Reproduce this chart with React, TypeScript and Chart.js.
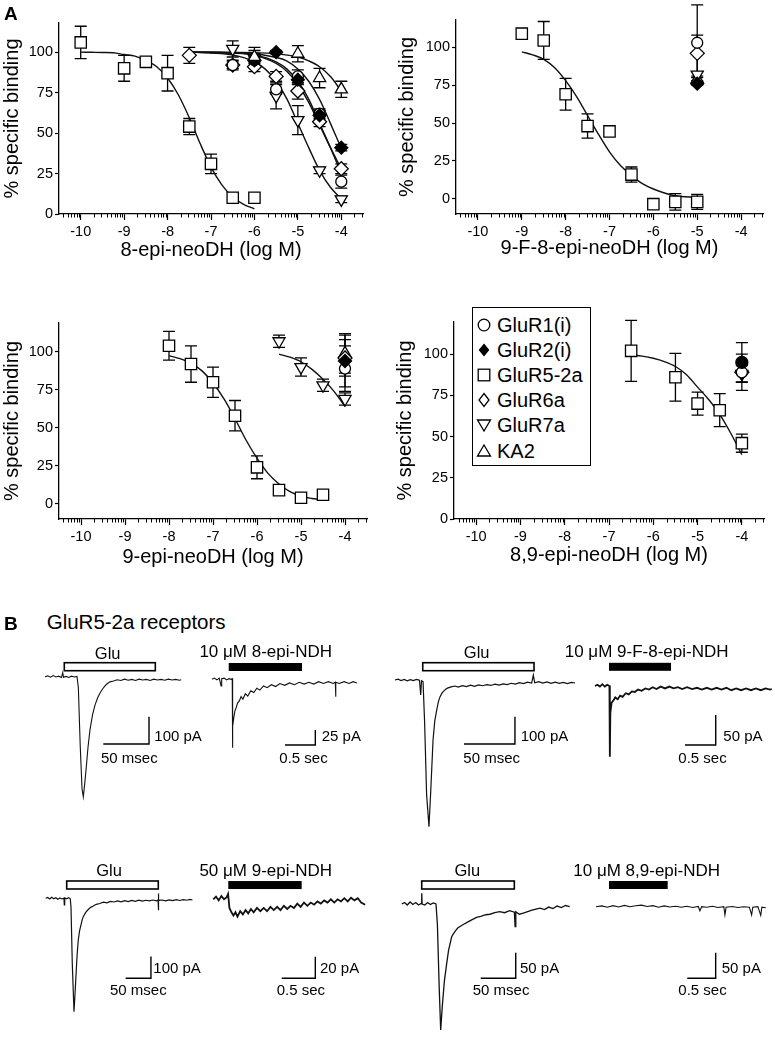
import React, { useEffect, useRef } from "react";
import { Chart, registerables } from "chart.js";

Chart.register(...registerables);

const FONT = "'Liberation Sans', Arial, Helvetica, sans-serif";
Chart.defaults.font.family = FONT;
Chart.defaults.color = "#000";

// ================= Panel A data =================
const xTicks = [-10, -9, -8, -7, -6, -5, -4];
const yTicks = [0, 25, 50, 75, 100];
const legendNames = ["GluR1(i)", "GluR2(i)", "GluR5-2a", "GluR6a", "GluR7a", "KA2"];
const legendKeys = ["R1", "R2", "R5", "R6", "R7", "KA"];

// Panel 1: 8-epi-neoDH
const p1R1x = [-6.5, -6, -5.5, -5, -4.5, -4];
const p1R1y = [92, 95, 77, 85, 62, 20];
const p1R1e = [3, 4, 3, 4, 3, 4];
const p1R2x = [-6, -5.5, -5, -4.5, -4];
const p1R2y = [95, 100, 83, 61, 41];
const p1R2e = [2, 1, 3, 3, 2];
const p1R5x = [-10, -9, -8.5, -8, -7.5, -7, -6.5, -6];
const p1R5y = [106, 90, 94, 87, 54, 31, 10, 10];
const p1R5e = [10, 8, 2, 11, 5, 6, 0, 0];
const p1R6x = [-7.5, -6.5, -6, -5.5, -5, -4.5, -4];
const p1R6y = [98, 92, 91, 85, 76, 57, 28];
const p1R6e = [5, 2, 3, 3, 5, 3, 3];
const p1R7x = [-6.5, -6, -5.5, -5, -4.5, -4];
const p1R7y = [102, 96, 73, 58, 27, 9];
const p1R7e = [5, 5, 8, 9, 2, 2];
const p1KAx = [-6, -5, -4.5, -4];
const p1KAy = [97, 99, 84, 77];
const p1KAe = [6, 5, 6, 5];

const p1c5x = [-10, -9.75, -9.5, -9.25, -9, -8.75, -8.5, -8.25, -8, -7.75, -7.5, -7.25, -7, -6.75, -6.5, -6.25, -6];
const p1c5y = [100, 99.9, 99.8, 99.6, 98.5, 97.5, 94.8, 91, 84, 73.5, 59.5, 43.5, 29, 18, 10.5, 6, 3.2];
const p1c7x = [-7.5, -7, -6.5, -6, -5.75, -5.5, -5.25, -5, -4.75, -4.5, -4.25, -4];
const p1c7y = [100, 99.5, 98.3, 94, 89.5, 82, 71, 56, 41, 27, 16.5, 9.3];
const p1c1x = [-7.5, -7, -6.5, -6, -5.5, -5.25, -5, -4.75, -4.5, -4.25, -4];
const p1c1y = [100, 99.8, 99.5, 98.3, 94, 89.5, 82, 71, 56, 41, 25];
const p1c6y = [100, 99.8, 99.4, 98, 93, 88, 80, 69, 55, 41, 28];
const p1c2x = [-7.5, -7, -6.5, -6, -5.5, -5.25, -5, -4.75, -4.5, -4.25, -4];
const p1c2y = [100, 99.9, 99.8, 99, 96.7, 94.5, 89.6, 82, 70.8, 56, 40.6];
const p1cKx = [-7.5, -7, -6.5, -6, -5.5, -5, -4.75, -4.5, -4.25, -4];
const p1cKy = [100, 99.9, 99.8, 99.7, 99, 97, 94.6, 91, 84.9, 76];

// Panel 2: 9-F-8-epi-neoDH
const p2R5x = [-9, -8.5, -8, -7.5, -7, -6.5, -6, -5.5, -5];
const p2R5y = [109, 104.5, 69, 48, 44.5, 16, -3.5, -2, -2];
const p2R5e = [0, 12.5, 10.5, 8, 0, 5, 0, 5.5, 5];
const p2Ox = [-5];
const p2R1y = [103];
const p2R1e = [25];
const p2R2y = [76];
const p2R2e = [1];
const p2R6y = [96];
const p2R6e = [12];
const p2R7y = [82];
const p2R7e = [2];
const p2KAy = [79];
const p2KAe = [2];
const p2c5x = [-9, -8.75, -8.5, -8.25, -8, -7.75, -7.5, -7.25, -7, -6.75, -6.5, -6.25, -6, -5.5, -5];
const p2c5y = [97, 95, 92, 86.5, 78, 67.5, 55, 42.5, 31, 22, 15.5, 10, 6.5, 2, 1];

// Panel 3: 9-epi-neoDH
const p3R5x = [-8, -7.5, -7, -6.5, -6, -5.5, -5, -4.5];
const p3R5y = [104, 92, 80, 58, 24, 9, 4, 6];
const p3R5e = [9.5, 12, 10, 10, 7.5, 2, 0, 0];
const p3R7x = [-5.5, -5, -4.5, -4];
const p3R7y = [107, 90, 78, 69];
const p3R7e = [4, 6, 4, 4];
const p3Ox = [-4];
const p3R1y = [89];
const p3R1e = [15];
const p3R2y = [94];
const p3R2e = [17];
const p3R6y = [96];
const p3R6e = [12];
const p3KAy = [99];
const p3KAe = [13];
const p3c5x = [-8, -7.75, -7.5, -7.25, -7, -6.75, -6.5, -6.25, -6, -5.75, -5.5, -5.25, -5, -4.75, -4.6];
const p3c5y = [97.5, 95.5, 92.5, 87.5, 79.5, 69, 56, 42, 30, 20, 13, 8, 5, 3.5, 3];
const p3c7x = [-5.5, -5.25, -5, -4.75, -4.5, -4.25, -4];
const p3c7y = [98.5, 96.5, 93.5, 88.5, 82, 74, 64];

// Panel 4: 8,9-epi-neoDH
const p4R5x = [-6.5, -5.5, -5, -4.5, -4];
const p4R5y = [102, 86, 70, 66, 46];
const p4R5e = [18.5, 14.5, 7, 10, 5.5];
const p4Ox = [-4];
const p4R1y = [89];
const p4R1e = [11];
const p4R2y = [95];
const p4R2e = [12];
const p4R6y = [89];
const p4R6e = [6];
const p4R7y = [88];
const p4R7e = [5];
const p4c5x = [-6.5, -6.25, -6, -5.75, -5.5, -5.25, -5, -4.75, -4.5, -4.25, -4];
const p4c5y = [99.5, 98.8, 97.5, 95.5, 92.5, 87.5, 80, 72.5, 63.5, 52, 39];

// ================= Panel B data (time, current pA) =================
const tr1: [number, number][] = [[0,0],[3,3],[6,-2],[9,4],[12,-1],[15,2],[18,-3],[19.4,15],[20.2,-2],[23,1],[26,-3],[29,2],[32,-1],[35,1],[36.5,-40],[38.5,-250],[40.5,-410],[41.9,-440],[43.2,-400],[44.9,-342],[47,-260],[49.2,-195],[52,-140],[54.7,-104],[57.5,-78],[60.2,-60],[63,-45],[65.6,-34],[68,-26],[71.1,-19],[75,-16],[79,-11],[83,-14],[87,-9],[91,-13],[95,-10],[99,-14],[103,-9],[107,-12],[111,-10],[115,-14],[119,-9],[123,-12],[127,-10],[131,-13],[135,-9],[139,-12],[143,-10],[147,-13],[149,-11]];
const tr2: [number, number][] = [[0,0],[0.04,2],[0.08,-1],[0.12,2],[0.15,-11],[0.16,1],[0.2,2],[0.24,-1],[0.28,1],[0.32,0],[0.334,1],[0.336,-114],[0.345,-78],[0.36,-64],[0.38,-52],[0.4,-47],[0.42,-40],[0.45,-36],[0.48,-29],[0.51,-33],[0.55,-24],[0.59,-28],[0.64,-19],[0.69,-22],[0.74,-15],[0.79,-18],[0.85,-11],[0.91,-14],[0.98,-9],[1.05,-12],[1.12,-7],[1.2,-10],[1.28,-6],[1.36,-9],[1.44,-5],[1.52,-8],[1.6,-5],[1.68,-8],[1.76,-4],[1.84,-7],[1.92,-4],[2.0,-7],[2.035,-5],[2.04,-29],[2.045,-5],[2.1,-7],[2.18,-4],[2.26,-7],[2.33,-4],[2.39,-6]];
const tr3: [number, number][] = [[0,0],[3,3],[6,-2],[9,2],[12,-3],[15,1],[18,-2],[21,2],[24,-1],[25.2,-55],[26,-3],[27.5,-6],[29,-150],[31,-420],[33.3,-537],[35,-410],[37.3,-220],[39,-150],[40.9,-110],[42.5,-80],[44.1,-62],[46,-48],[48,-40],[50,-33],[52,-29],[55,-25],[58.8,-22],[62,-26],[66,-21],[70,-24],[74,-19],[78,-23],[82,-18],[86,-21],[90,-17],[94,-20],[98,-15],[102,-19],[106,-14],[110,-17],[114,-12],[118,-15],[122,-10],[126,-13],[130,-8],[134,-11],[135.6,18],[137,-10],[141,-6],[145,-11],[149,-7],[153,-12],[157,-8],[161,-12],[165,-9],[169,-13],[173,-9],[176.5,-11]];
const tr4: [number, number][] = [[0,0],[0.04,2],[0.08,-1],[0.12,3],[0.16,-1],[0.2,2],[0.235,0],[0.24,1],[0.244,-118],[0.25,-45],[0.27,-28],[0.3,-24],[0.33,-19],[0.37,-22],[0.41,-16],[0.45,-18],[0.5,-12],[0.55,-14],[0.6,-9],[0.65,-10],[0.7,-6],[0.76,-8],[0.82,-4],[0.88,-6],[0.94,-2],[1.0,-5],[1.07,-1],[1.14,-4],[1.21,-1],[1.28,-4],[1.35,-2],[1.42,-5],[1.5,-2],[1.58,-5],[1.66,-3],[1.74,-6],[1.82,-3],[1.9,-6],[1.98,-3],[2.06,-6],[2.14,-3],[2.22,-7],[2.3,-4],[2.38,-7],[2.46,-4],[2.54,-7],[2.62,-4],[2.7,-7],[2.78,-4],[2.85,-6],[2.88,-5]];
const tr5: [number, number][] = [[0,0],[4,4],[8,-3],[12,5],[16,-2],[20,3],[24,-4],[28,2],[32,-3],[36,1],[36.8,-30],[37.6,2],[41,-2],[45,3],[48.5,-1],[50,-40],[52.5,-300],[55.9,-525],[57.5,-460],[59.9,-355],[62,-265],[64.4,-193],[67,-150],[69.8,-123],[72,-100],[74.3,-85],[79,-65],[84,-52],[89,-42],[94,-36],[100,-28],[107,-24],[114,-18],[121,-21],[128,-14],[135,-17],[142,-12],[149,-16],[156,-11],[163,-15],[170,-10],[177,-14],[184,-9],[191,-13],[198,-9],[205,-12],[212,-8],[219,-12],[222,-8],[222.5,22],[223,-55],[223.5,-10],[230,-8],[237,-12],[244,-7],[251,-11],[258,-6],[265,-10],[272,-6],[279,-9],[285,-5],[290,-8]];
const tr6: [number, number][] = [[0,0],[0.04,2.5],[0.08,-1],[0.12,3],[0.16,0],[0.2,2],[0.22,5],[0.24,-8],[0.27,-12],[0.3,-15],[0.33,-12],[0.36,-16],[0.4,-11],[0.44,-14],[0.48,-10],[0.52,-13],[0.56,-9],[0.6,-12],[0.65,-8],[0.7,-11],[0.75,-8],[0.8,-11],[0.85,-7],[0.9,-10],[0.95,-7],[1.0,-10],[1.05,-6],[1.1,-9],[1.15,-6],[1.2,-8],[1.25,-4],[1.3,-7],[1.35,-3],[1.4,-6],[1.45,-3],[1.5,-5],[1.55,-2],[1.6,-4],[1.65,-1],[1.7,-3],[1.75,0],[1.8,-3],[1.85,0],[1.9,-2],[1.95,1],[2.0,-2],[2.05,1.5],[2.1,-1],[2.15,1],[2.2,-3],[2.26,-5]];
const tr7: [number, number][] = [[0,0],[4,3],[8,-2],[12,4],[16,-1],[20,3],[24,-2],[28,1],[28.6,21],[29.2,0],[33,-2],[37,3],[41,-1],[45,2],[49,0],[51,-40],[53.5,-160],[55.7,-246],[58,-200],[61,-150],[64.3,-116],[67,-90],[71.4,-64],[74,-58],[77.6,-51],[80,-47],[83.3,-44],[88,-40],[94.7,-35],[100,-31],[107,-26],[113,-24],[120,-21],[126,-20],[133,-17],[140,-15],[147,-17],[154,-13],[161,-16],[162,-44],[163,-15],[168,-20],[173.7,-18],[180,-15],[186,-12],[192,-10],[197.6,-8],[204,-11],[210,-6],[216,-9],[222,-4],[228,-7],[234,-3],[240,-5]];
const tr8: [number, number][] = [[0,0],[0.1,1.5],[0.2,-1],[0.3,2],[0.4,-0.5],[0.5,2.5],[0.6,0],[0.7,2],[0.8,3],[0.9,0.5],[1.0,2],[1.1,-1],[1.2,1.5],[1.3,-0.5],[1.4,1],[1.5,-1],[1.6,1],[1.7,-1.5],[1.8,0.5],[1.83,-8],[1.86,0],[1.95,-1],[2.05,1],[2.15,-1.5],[2.25,0],[2.27,-16],[2.29,-1],[2.4,0.5],[2.5,-1.5],[2.6,0],[2.7,-1],[2.74,-16],[2.76,-1],[2.85,0],[2.9,-17],[2.92,-1],[2.99,-2]];

// application bars: [start, end, level]
const bar1 = [21.1, 120.7, 36.6];
const bar2 = [0.276, 1.485, 20.5];
const bar3 = [27.2, 136.3, 48.7];
const bar4 = [0.228, 1.238, 32];
const bar5 = [41.5, 222.5, 61.6];
const bar6 = [0.223, 1.315, 13.2];
const bar7 = [28.6, 160.9, 37.1];
const bar8 = [0.229, 1.262, 42.4];
// scale bars: [cornerTime, cornerCurrent, timeLen, currentLen]
const sb1 = [113.8, -246.5, 50, 100];
const sb2 = [1.705, -109.5, 0.5, 25];
const sb3 = [117.6, -234.4, 50, 100];
const sb4 = [1.966, -98.3, 0.5, 50];
const sb5 = [208, -370, 50, 100];
const sb6 = [1.518, -73.1, 0.5, 20];
const sb7 = [162.9, -145, 50, 50];
const sb8 = [2.107, -139.8, 0.5, 50];

// ================= styles =================
const MARKERS: Record<string, { style: string; r: number; fill: string; rot?: number }> = {
  R1: { style: "circle", r: 5.5, fill: "#fff" },
  R2: { style: "rectRot", r: 6.5, fill: "#000" },
  R5: { style: "rect", r: 8, fill: "#fff" },
  R6: { style: "rectRot", r: 7, fill: "#fff" },
  R7: { style: "triangle", r: 7, fill: "#fff", rot: 180 },
  KA: { style: "triangle", r: 7, fill: "#fff" },
};

type Series = { key: string; x: number[]; y: number[]; e: number[]; override?: any };
type Curve = { x: number[]; y: number[] };

const errorBarPlugin = {
  id: "errbars",
  beforeDatasetsDraw(chart: any) {
    const { ctx, scales } = chart;
    const xs = scales.x, ys = scales.y;
    ctx.save();
    ctx.strokeStyle = "#000";
    ctx.lineWidth = 1.3;
    chart.data.datasets.forEach((ds: any) => {
      if (!ds.errors) return;
      ds.data.forEach((p: any, i: number) => {
        const e = ds.errors[i];
        if (!e) return;
        const px = xs.getPixelForValue(p.x);
        const t = ys.getPixelForValue(p.y + e);
        const b = ys.getPixelForValue(p.y - e);
        ctx.beginPath();
        ctx.moveTo(px, t); ctx.lineTo(px, b);
        ctx.moveTo(px - 6, t); ctx.lineTo(px + 6, t);
        ctx.moveTo(px - 6, b); ctx.lineTo(px + 6, b);
        ctx.stroke();
      });
    });
    ctx.restore();
  },
};

const minorTickPlugin = {
  id: "minorTicks",
  afterDraw(chart: any) {
    const { ctx } = chart;
    const xs = chart.scales.x;
    const yb = chart.chartArea.bottom;
    ctx.save();
    ctx.strokeStyle = "#000";
    ctx.lineWidth = 1;
    for (let n = Math.floor(xs.min); n < Math.ceil(xs.max); n++) {
      for (let k = 2; k <= 9; k++) {
        const v = n + Math.log10(k);
        if (v < xs.min || v > xs.max) continue;
        const px = Math.round(xs.getPixelForValue(v)) + 0.5;
        ctx.beginPath();
        ctx.moveTo(px, yb);
        ctx.lineTo(px, yb + 3.5);
        ctx.stroke();
      }
    }
    ctx.restore();
  },
};

type PanelLayout = {
  left: number; top: number; width: number; height: number;
  pt: number; pr: number; yw: number; xh: number; xtp: number; ytp: number;
  yMin: number; yMax: number;
};

function ChartCanvas({ left, top, width, height, make }: { left: number; top: number; width: number; height: number; make: () => any }) {
  const ref = useRef<HTMLCanvasElement>(null);
  useEffect(() => {
    const chart = new Chart(ref.current as HTMLCanvasElement, make());
    return () => chart.destroy();
  }, []);
  return (
    <canvas
      ref={ref}
      width={width}
      height={height}
      style={{ position: "absolute", left, top, width, height }}
    />
  );
}

function doseConfig(L: PanelLayout, xTitle: string, series: Series[], curves: Curve[]) {
  const datasets: any[] = [];
  curves.forEach((c) => {
    datasets.push({
      type: "line",
      data: c.x.map((x, i) => ({ x, y: c.y[i] })),
      borderColor: "#111",
      borderWidth: 1.4,
      pointRadius: 0,
      cubicInterpolationMode: "monotone",
      fill: false,
      order: 2,
    });
  });
  series.forEach((s) => {
    const st = { ...MARKERS[s.key], ...(s.override || {}) };
    datasets.push({
      type: "line",
      data: s.x.map((x, i) => ({ x, y: s.y[i] })),
      errors: s.e,
      showLine: false,
      pointStyle: st.style,
      pointRadius: st.r,
      pointRotation: st.rot || 0,
      pointBackgroundColor: st.fill,
      pointBorderColor: "#000",
      pointBorderWidth: 1.3,
      order: 1,
    });
  });
  return {
    type: "line",
    data: { datasets },
    plugins: [errorBarPlugin, minorTickPlugin],
    options: {
      animation: false,
      responsive: false,
      maintainAspectRatio: false,
      layout: { padding: { top: L.pt, right: L.pr, bottom: 0, left: 0 } },
      plugins: { legend: { display: false }, tooltip: { enabled: false } },
      scales: {
        x: {
          type: "linear",
          min: -10.5,
          max: -3.5,
          afterFit: (s: any) => { s.height = L.xh; },
          afterBuildTicks: (s: any) => { s.ticks = xTicks.map((v) => ({ value: v })); },
          ticks: { color: "#000", font: { size: 14.5, family: FONT }, padding: 3, maxRotation: 0, autoSkip: false, callback: (v: any) => String(v) },
          grid: { drawOnChartArea: false, drawTicks: true, tickLength: 6, tickColor: "#000", tickWidth: 1.2 },
          border: { display: true, color: "#000", width: 1.3 },
          title: { display: true, text: xTitle, color: "#000", font: { size: 20, family: FONT }, padding: { top: 0, bottom: L.xtp } },
        },
        y: {
          type: "linear",
          min: L.yMin,
          max: L.yMax,
          afterFit: (s: any) => { s.width = L.yw; },
          afterBuildTicks: (s: any) => { s.ticks = yTicks.map((v) => ({ value: v })); },
          ticks: { color: "#000", font: { size: 14.5, family: FONT }, padding: 2, autoSkip: false, callback: (v: any) => String(v) },
          grid: { drawOnChartArea: false, drawTicks: true, tickLength: 4, tickColor: "#000", tickWidth: 1.2 },
          border: { display: true, color: "#000", width: 1.3 },
          title: { display: true, text: "% specific binding", color: "#000", font: { size: 20, family: FONT }, padding: { top: L.ytp, bottom: 0 } },
        },
      },
    },
  };
}

type TraceLayout = { left: number; top: number; width: number; height: number; t0: number; i0: number; px: number; py: number };

const appBarPlugin = {
  id: "appBar",
  afterDatasetsDraw(chart: any, _args: any, opts: any) {
    const b = opts.bar;
    if (!b) return;
    const { ctx } = chart;
    const xs = chart.scales.x, ys = chart.scales.y;
    const x1 = xs.getPixelForValue(b[0]);
    const x2 = xs.getPixelForValue(b[1]);
    const yc = ys.getPixelForValue(b[2]);
    ctx.save();
    if (opts.filled) {
      ctx.fillStyle = "#000";
      ctx.fillRect(x1, yc - 4, x2 - x1, 8);
    } else {
      ctx.fillStyle = "#fff";
      ctx.strokeStyle = "#000";
      ctx.lineWidth = 1.6;
      ctx.fillRect(x1, yc - 4, x2 - x1, 8);
      ctx.strokeRect(x1, yc - 4, x2 - x1, 8);
    }
    ctx.restore();
  },
};

function traceConfig(L: TraceLayout, data: [number, number][], bar: number[], filled: boolean, sb: number[], lw: number) {
  const xMin = (L.left - L.t0) / L.px;
  const xMax = (L.left + L.width - L.t0) / L.px;
  const yMax = (L.i0 - L.top) / L.py;
  const yMin = (L.i0 - (L.top + L.height)) / L.py;
  return {
    type: "line",
    data: {
      datasets: [
        {
          data: data.map((p) => ({ x: p[0], y: p[1] })),
          borderColor: "#111",
          borderWidth: lw,
          pointRadius: 0,
          tension: 0,
          fill: false,
        },
        {
          data: [
            { x: sb[0] - sb[2], y: sb[1] },
            { x: sb[0], y: sb[1] },
            { x: sb[0], y: sb[1] + sb[3] },
          ],
          borderColor: "#000",
          borderWidth: 1.4,
          pointRadius: 0,
          tension: 0,
          fill: false,
        },
      ],
    },
    plugins: [appBarPlugin],
    options: {
      animation: false,
      responsive: false,
      maintainAspectRatio: false,
      layout: { padding: 0 },
      plugins: { legend: { display: false }, tooltip: { enabled: false }, appBar: { bar, filled } },
      scales: {
        x: { type: "linear", display: false, min: xMin, max: xMax },
        y: { type: "linear", display: false, min: yMin, max: yMax },
      },
    },
  };
}

function Txt({ x, y, text, size = 15, center = false, bold = false }: { x: number; y: number; text: string; size?: number; center?: boolean; bold?: boolean }) {
  return (
    <div
      style={{
        position: "absolute",
        left: x,
        top: y,
        transform: center ? "translate(-50%,-50%)" : "translate(0,-50%)",
        fontSize: size,
        fontWeight: bold ? 700 : 400,
        whiteSpace: "nowrap",
        lineHeight: 1,
        color: "#000",
        fontFamily: FONT,
      }}
    >
      {text}
    </div>
  );
}

function LegendSymbol({ k }: { k: string }) {
  const common = { stroke: "#000", strokeWidth: 1.3 };
  let shape: any = null;
  if (k === "R1") shape = <circle cx={8} cy={8} r={5.8} fill="#fff" {...common} />;
  if (k === "R2") shape = <polygon points="8,2.5 12.5,8 8,13.5 3.5,8" fill="#000" {...common} />;
  if (k === "R5") shape = <rect x={2.2} y={2.2} width={11.6} height={11.6} fill="#fff" {...common} />;
  if (k === "R6") shape = <polygon points="8,1.5 13,8 8,14.5 3,8" fill="#fff" {...common} />;
  if (k === "R7") shape = <polygon points="1.5,3 14.5,3 8,14" fill="#fff" {...common} />;
  if (k === "KA") shape = <polygon points="8,2 14.5,13 1.5,13" fill="#fff" {...common} />;
  return (
    <svg width={16} height={16} style={{ position: "absolute", left: 2.7, top: -8 }}>
      {shape}
    </svg>
  );
}

export default function App() {
  const P1: PanelLayout = { left: 0, top: 0, width: 390, height: 270, pt: 23, pr: 27, yw: 59, xh: 56, xtp: 8, ytp: 0, yMin: 0, yMax: 118 };
  const P2: PanelLayout = { left: 390, top: 0, width: 385, height: 270, pt: 20, pr: 12, yw: 66, xh: 56, xtp: 10, ytp: 5, yMin: -10, yMax: 118 };
  const P3: PanelLayout = { left: 0, top: 300, width: 390, height: 270, pt: 23, pr: 23, yw: 59, xh: 51, xtp: 1, ytp: 0, yMin: -10, yMax: 119 };
  const P4: PanelLayout = { left: 390, top: 300, width: 385, height: 270, pt: 22, pr: 11, yw: 64, xh: 51, xtp: 3, ytp: 3, yMin: 0, yMax: 119.5 };

  const s1: Series[] = [
    { key: "R5", x: p1R5x, y: p1R5y, e: p1R5e },
    { key: "KA", x: p1KAx, y: p1KAy, e: p1KAe },
    { key: "R2", x: p1R2x, y: p1R2y, e: p1R2e },
    { key: "R1", x: p1R1x, y: p1R1y, e: p1R1e },
    { key: "R6", x: p1R6x, y: p1R6y, e: p1R6e },
    { key: "R7", x: p1R7x, y: p1R7y, e: p1R7e },
  ];
  const c1: Curve[] = [
    { x: p1c5x, y: p1c5y },
    { x: p1c7x, y: p1c7y },
    { x: p1c1x, y: p1c1y },
    { x: p1c1x, y: p1c6y },
    { x: p1c2x, y: p1c2y },
    { x: p1cKx, y: p1cKy },
  ];
  const s2: Series[] = [
    { key: "R5", x: p2R5x, y: p2R5y, e: p2R5e },
    { key: "R1", x: p2Ox, y: p2R1y, e: p2R1e },
    { key: "R6", x: p2Ox, y: p2R6y, e: p2R6e },
    { key: "R2", x: p2Ox, y: p2R2y, e: p2R2e },
    { key: "R7", x: p2Ox, y: p2R7y, e: p2R7e },
    { key: "KA", x: p2Ox, y: p2KAy, e: p2KAe },
  ];
  const s3: Series[] = [
    { key: "R5", x: p3R5x, y: p3R5y, e: p3R5e },
    { key: "R7", x: p3R7x, y: p3R7y, e: p3R7e },
    { key: "R2", x: p3Ox, y: p3R2y, e: p3R2e },
    { key: "R1", x: p3Ox, y: p3R1y, e: p3R1e },
    { key: "R6", x: p3Ox, y: p3R6y, e: p3R6e },
    { key: "KA", x: p3Ox, y: p3KAy, e: p3KAe },
  ];
  const s4: Series[] = [
    { key: "R5", x: p4R5x, y: p4R5y, e: p4R5e },
    { key: "R2", x: p4Ox, y: p4R2y, e: p4R2e, override: { style: "circle", r: 6 } },
    { key: "R1", x: p4Ox, y: p4R1y, e: p4R1e },
    { key: "R6", x: p4Ox, y: p4R6y, e: p4R6e },
    { key: "R7", x: p4Ox, y: p4R7y, e: p4R7e },
  ];

  const T1: TraceLayout = { left: 38, top: 640, width: 160, height: 175, t0: 45, i0: 676.7, px: 0.914, py: 0.273 };
  const T2: TraceLayout = { left: 205, top: 640, width: 165, height: 130, t0: 212, i0: 679.3, px: 60.6, py: 0.6 };
  const T3: TraceLayout = { left: 390, top: 640, width: 190, height: 195, t0: 395, i0: 680, px: 1.02, py: 0.273 };
  const T4: TraceLayout = { left: 590, top: 640, width: 185, height: 130, t0: 595, i0: 686, px: 61.4, py: 0.6 };
  const T5: TraceLayout = { left: 38, top: 860, width: 160, height: 165, t0: 45.7, i0: 898.3, px: 0.506, py: 0.216 };
  const T6: TraceLayout = { left: 205, top: 860, width: 165, height: 130, t0: 213.3, i0: 899.3, px: 67.2, py: 1.08 };
  const T7: TraceLayout = { left: 395, top: 860, width: 180, height: 178, t0: 401.7, i0: 904, px: 0.7, py: 0.512 };
  const T8: TraceLayout = { left: 590, top: 860, width: 185, height: 130, t0: 596, i0: 906.7, px: 56.8, py: 0.512 };

  const traces: [TraceLayout, [number, number][], number[], boolean, number[], number][] = [
    [T1, tr1, bar1, false, sb1, 1.1],
    [T2, tr2, bar2, true, sb2, 1.1],
    [T3, tr3, bar3, false, sb3, 1.2],
    [T4, tr4, bar4, true, sb4, 1.8],
    [T5, tr5, bar5, false, sb5, 1.2],
    [T6, tr6, bar6, true, sb6, 1.8],
    [T7, tr7, bar7, false, sb7, 1.3],
    [T8, tr8, bar8, true, sb8, 1.1],
  ];

  const panels: [PanelLayout, string, Series[], Curve[]][] = [
    [P1, "8-epi-neoDH (log M)", s1, c1],
    [P2, "9-F-8-epi-neoDH (log M)", s2, [{ x: p2c5x, y: p2c5y }]],
    [P3, "9-epi-neoDH (log M)", s3, [{ x: p3c5x, y: p3c5y }, { x: p3c7x, y: p3c7y }]],
    [P4, "8,9-epi-neoDH (log M)", s4, [{ x: p4c5x, y: p4c5y }]],
  ];

  return (
    <div style={{ position: "absolute", left: 0, top: 0, width: 775, height: 1042, background: "#fff", overflow: "hidden", fontFamily: FONT }}>
      {panels.map(([L, title, s, c], i) => (
        <ChartCanvas key={"p" + i} left={L.left} top={L.top} width={L.width} height={L.height} make={() => doseConfig(L, title, s, c)} />
      ))}
      <div style={{ position: "absolute", left: 472, top: 307, width: 119, height: 159, border: "1.3px solid #000", boxSizing: "border-box", background: "#fff" }}>
        {legendNames.map((n, i) => (
          <div key={n} style={{ position: "absolute", left: 0, top: [18, 43, 68, 93, 118, 144][i] - 1.3 }}>
            <LegendSymbol k={legendKeys[i]} />
            <div style={{ position: "absolute", left: 24, top: 0, transform: "translate(0,-50%)", fontSize: 20, lineHeight: 1, whiteSpace: "nowrap" }}>{n}</div>
          </div>
        ))}
      </div>
      <Txt x={4} y={12.5} text="A" size={19} bold />
      <Txt x={4} y={623} text="B" size={19} bold />
      <Txt x={46.7} y={622} text="GluR5-2a receptors" size={20.5} />

      {traces.map(([L, d, b, f, sb, lw], i) => (
        <ChartCanvas key={"t" + i} left={L.left} top={L.top} width={L.width} height={L.height} make={() => traceConfig(L, d, b, f, sb, lw)} />
      ))}

      <Txt x={107.7} y={652.7} text="Glu" size={16.5} center />
      <Txt x={265.7} y={650.7} text="10 μM 8-epi-NDH" size={17} center />
      <Txt x={154.3} y={735} text="100 pA" />
      <Txt x={101} y={756.7} text="50 msec" />
      <Txt x={321.7} y={735} text="25 pA" />
      <Txt x={279.3} y={756.7} text="0.5 sec" />

      <Txt x={476.7} y={651.7} text="Glu" size={16.5} center />
      <Txt x={646.6} y={650.7} text="10 μM 9-F-8-epi-NDH" size={17} center />
      <Txt x={520.7} y={735} text="100 pA" />
      <Txt x={463.3} y={756.7} text="50 msec" />
      <Txt x={723.3} y={735} text="50 pA" />
      <Txt x={678.3} y={756.7} text="0.5 sec" />

      <Txt x={109} y={870} text="Glu" size={16.5} center />
      <Txt x={265.7} y={870} text="50 μM 9-epi-NDH" size={17} center />
      <Txt x={153.3} y={966.7} text="100 pA" />
      <Txt x={110} y={989.3} text="50 msec" />
      <Txt x={320} y={966.7} text="20 pA" />
      <Txt x={276.7} y={989.3} text="0.5 sec" />

      <Txt x={467.3} y={870} text="Glu" size={16.5} center />
      <Txt x={646.7} y={870} text="10 μM 8,9-epi-NDH" size={17} center />
      <Txt x={520} y={966.7} text="50 pA" />
      <Txt x={472.7} y={989.3} text="50 msec" />
      <Txt x={721.7} y={966.7} text="50 pA" />
      <Txt x={678.3} y={989.3} text="0.5 sec" />
    </div>
  );
}
